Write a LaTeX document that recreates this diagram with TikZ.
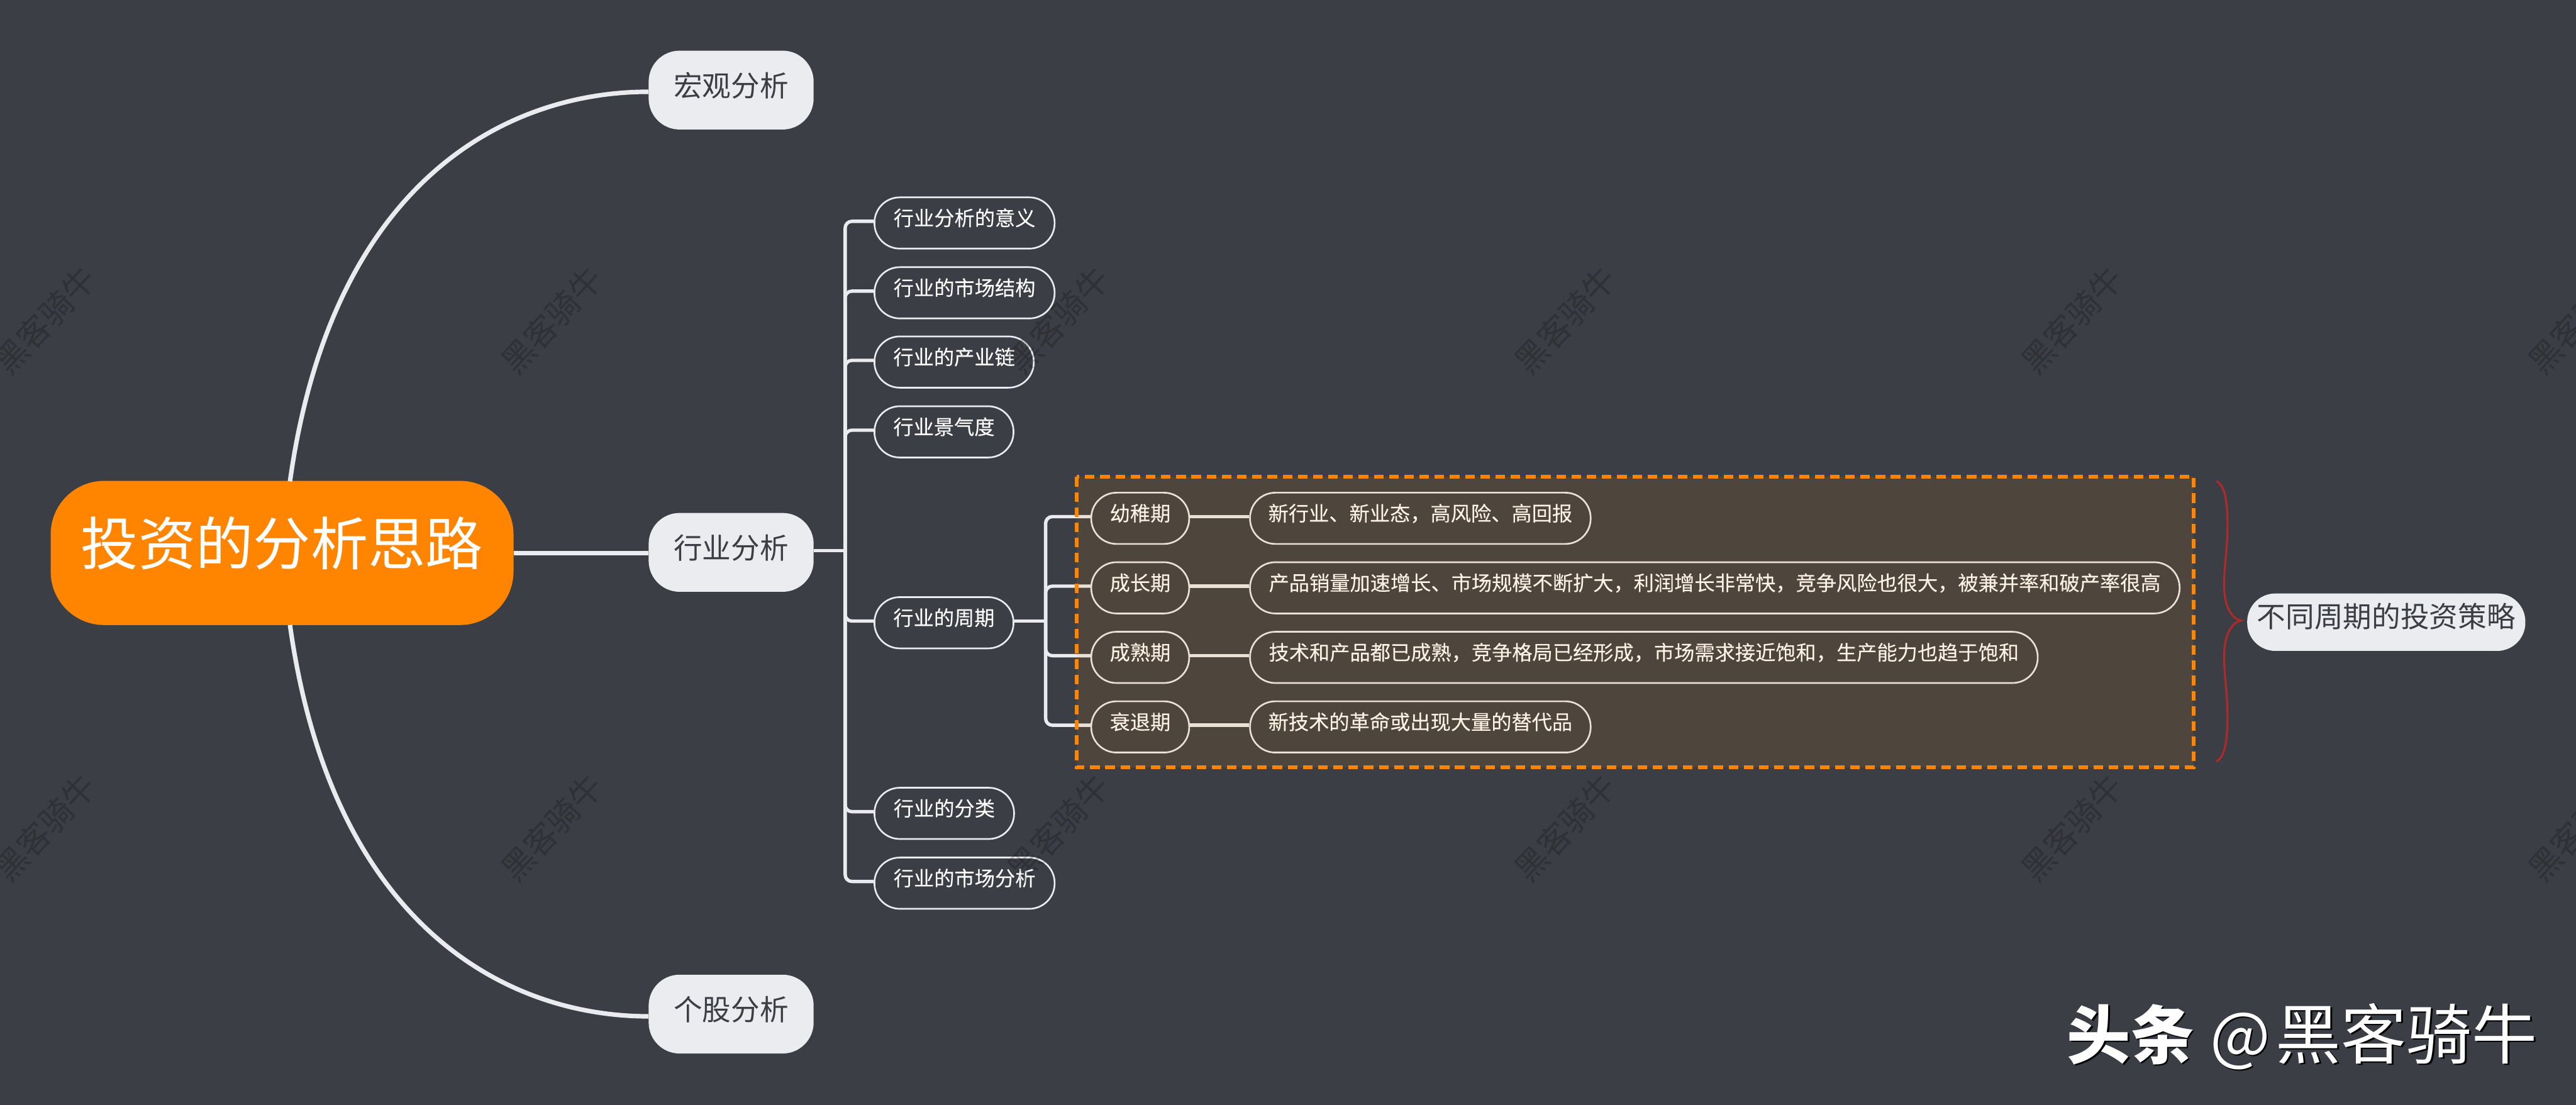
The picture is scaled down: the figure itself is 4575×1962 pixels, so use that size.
\documentclass[tikz,border=0pt]{standalone}
\usepackage{fontspec}
\setmainfont{Noto Sans CJK SC}
\newfontfamily\leaffont[FakeBold=0.12]{Noto Sans CJK SC}
\definecolor{bgc}{HTML}{3B3E44}
\definecolor{linec}{HTML}{E9EBEE}
\definecolor{grayc}{HTML}{EBECEF}
\definecolor{orangec}{HTML}{FF8400}
\definecolor{bracec}{HTML}{B02A2A}
\tikzset{
  mainnode/.style={fill=orangec,text=white,rounded corners=95pt,inner sep=0pt,minimum width=822pt,minimum height=256pt,font=\fontsize{102pt}{102pt}\selectfont,text height=44pt,text depth=0pt},
  graynode/.style={fill=grayc,text=bgc,rounded corners=55pt,inner sep=0pt,minimum width=293pt,minimum height=140pt,font=\fontsize{51pt}{51pt}\selectfont,text height=22pt,text depth=0pt},
  stratnode/.style={fill=grayc,text=bgc,rounded corners=50pt,inner sep=0pt,minimum width=494pt,minimum height=102pt,font=\fontsize{51pt}{51pt}\selectfont,text height=19pt,text depth=0pt},
  leaf/.style={draw=linec,line width=3pt,text=white,rounded corners=45pt,inner sep=0pt,minimum height=91pt,font=\leaffont\fontsize{36pt}{36pt}\selectfont,text height=9.4pt,text depth=0pt},
  conn/.style={draw=linec,line width=6pt,rounded corners=12pt},
  curveconn/.style={draw=linec,line width=8pt},
  bracel/.style={draw=bracec,line width=3.5pt,line cap=round},
  dashbox/.style={draw=orangec,line width=6.5pt,dash pattern=on 17pt off 10pt,fill=orangec,fill opacity=.1,draw opacity=1},
  wm/.style={rotate=47,text=black,opacity=.2,font=\fontsize{58pt}{58pt}\selectfont,inner sep=0pt},
  logo/.style={text=white,anchor=base west,inner sep=0pt,font=\fontsize{113pt}{113pt}\selectfont},
  logoshadow/.style={logo,text=black}
}
\newcommand{\logotext}{\bfseries 头条\hspace{28pt}\mdseries @\hspace{10pt}{\fontsize{116pt}{116pt}\selectfont 黑客骑牛}}
\begin{document}
\begin{tikzpicture}[x=1pt,y=-1pt]
\useasboundingbox (0,0) rectangle (4575,1962);
\fill[bgc] (0,0) rectangle (4575,1962);
% main nodes
\node[mainnode] (main) at (501,982) {投资的分析思路};
\node[graynode] (macro) at (1298.5,160) {宏观分析};
\node[graynode] (ind) at (1298.5,981) {行业分析};
\node[graynode] (stock) at (1298.5,1801) {个股分析};
% leaves
\node[leaf,minimum width=320pt] (a1) at (1713,396) {行业分析的意义};
\node[leaf,minimum width=320pt] (a2) at (1713,520) {行业的市场结构};
\node[leaf,minimum width=283pt] (a3) at (1694.5,643) {行业的产业链};
\node[leaf,minimum width=247pt] (a4) at (1676.5,767) {行业景气度};
\node[leaf,minimum width=247pt] (a5) at (1676.5,1106) {行业的周期};
\node[leaf,minimum width=248pt] (a6) at (1677,1444.5) {行业的分类};
\node[leaf,minimum width=320pt] (a7) at (1713,1568.5) {行业的市场分析};
\node[leaf,minimum width=174pt] (s1) at (2025,920.5) {幼稚期};
\node[leaf,minimum width=174pt] (s2) at (2025,1044) {成长期};
\node[leaf,minimum width=174pt] (s3) at (2025,1167.5) {成熟期};
\node[leaf,minimum width=174pt] (s4) at (2025,1291) {衰退期};
\node[leaf,minimum width=605pt] (d1) at (2522.5,920.5) {新行业、新业态，高风险、高回报};
\node[leaf,minimum width=1651pt] (d2) at (3045.5,1044) {产品销量加速增长、市场规模不断扩大，利润增长非常快，竞争风险也很大，被兼并率和破产率很高};
\node[leaf,minimum width=1399pt] (d3) at (2919.5,1167.5) {技术和产品都已成熟，竞争格局已经形成，市场需求接近饱和，生产能力也趋于饱和};
\node[leaf,minimum width=605pt] (d4) at (2522.5,1291) {新技术的革命或出现大量的替代品};
\node[stratnode] (strat) at (4238,1105) {不同周期的投资策略};
% connectors
\coordinate (curvetop) at (515,855);
\coordinate (curvebot) at (515,1110);
\draw[curveconn] (main.east) -- (main.east -| ind.west);
\draw[curveconn] (curvetop) .. controls (590,320) and (900,163) .. ([yshift=-3pt]macro.west);
\draw[curveconn] (curvebot) .. controls (590,1645) and (900,1805) .. ([yshift=-4pt]stock.west);
\coordinate (hub) at (1501,978);
\coordinate (hubb) at (1857,1103);
\draw[conn] ([yshift=3pt]ind.east) -- (hub);
\foreach \n in {a1,a2,a3,a4,a5,a6,a7}{\draw[conn] (hub) |- ([yshift=3pt]\n.west);}
\draw[conn] ([yshift=3pt]a5.east) -- (hubb);
\foreach \n in {s1,s2,s3,s4}{\draw[conn] (hubb) |- ([yshift=3pt]\n.west);}
\draw[conn] ([yshift=3pt]s1.east) -- ([yshift=3pt]d1.west);
\draw[conn] ([yshift=3pt]s2.east) -- ([yshift=3pt]d2.west);
\draw[conn] ([yshift=3pt]s3.east) -- ([yshift=3pt]d3.west);
\draw[conn] ([yshift=3pt]s4.east) -- ([yshift=3pt]d4.west);
% highlight box
\draw[dashbox] (1912,847) rectangle (3896,1363);
% brace
\coordinate (bt) at (3937,855);
\coordinate (bb) at (3937,1352);
\coordinate (bm) at (3980,1102);
\draw[bracel] (bt) .. controls (3950,862) and (3956,885) .. (3956,930)
  .. controls (3956,980) and (3950,1000) .. (3950,1040)
  .. controls (3950,1075) and (3962,1098) .. (bm)
  .. controls (3962,1106) and (3950,1130) .. (3950,1165)
  .. controls (3950,1205) and (3956,1225) .. (3956,1275)
  .. controls (3956,1320) and (3950,1345) .. (bb);
% watermarks
\foreach \i [count=\k] in {80,980,1880,2780,3680,4580}{
  \node[wm] (wa\k) at (\i,568) {黑客骑牛};
  \node[wm] (wb\k) at (\i,1470) {黑客骑牛};
}
% logo
\node[logoshadow] (logos) at (3674,1883) {\logotext};
\node[logo] (logot) at (3671,1880) {\logotext};
\end{tikzpicture}
\end{document}
